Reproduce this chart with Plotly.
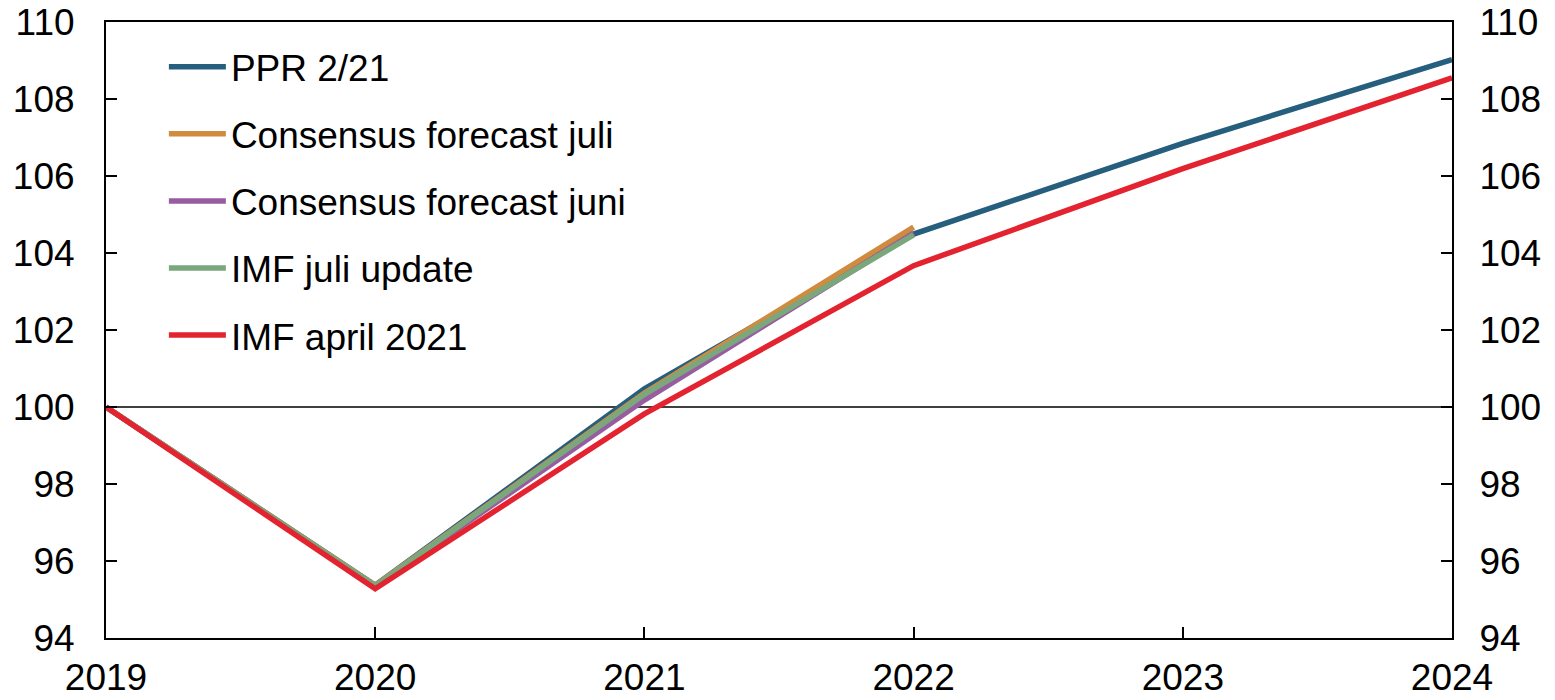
import plotly.graph_objects as go

years = [2019, 2020, 2021, 2022, 2023, 2024]
years_short = [2019, 2020, 2021, 2022]

ppr = [100, 95.37, 100.47, 104.49, 106.85, 109.02]
cons_juli = [100, 95.37, 100.36, 104.67]
cons_juni = [100, 95.35, 100.18, 104.52]
imf_juli = [100, 95.36, 100.33, 104.47]
imf_april = [100, 95.28, 99.82, 103.67, 106.19, 108.55]

y_ticks = [94, 96, 98, 100, 102, 104, 106, 108, 110]

series = [
    ("PPR 2/21", years, ppr, "#265E7E"),
    ("Consensus forecast juli", years_short, cons_juli, "#D08B3E"),
    ("Consensus forecast juni", years_short, cons_juni, "#985DA0"),
    ("IMF juli update", years_short, imf_juli, "#7BA77C"),
    ("IMF april 2021", years, imf_april, "#E3232F"),
]

FONT = "Liberation Sans, Arial, sans-serif"
FS = 37

fig = go.Figure()
for i, (name, xs, ys, col) in enumerate(series):
    fig.add_trace(go.Scatter(
        x=xs, y=ys, name=name, mode="lines",
        line=dict(color=col, width=5.5),
        legendgroup=f"g{i}",
    ))

# invisible trace so that the mirrored right-hand axis is rendered
fig.add_trace(go.Scatter(
    x=years, y=ppr, yaxis="y2", mode="lines", opacity=0,
    showlegend=False, hoverinfo="skip", line=dict(width=0),
))

fig.add_hline(y=100, line=dict(color="black", width=1.5), layer="below")

axis_common = dict(
    range=[94, 110], tickvals=y_ticks, ticks="inside", ticklen=11,
    tickwidth=1.5, tickcolor="black", showgrid=False, zeroline=False,
    showline=True, linecolor="black", linewidth=2, automargin=False,
    ticklabeloverflow="allow",
    tickfont=dict(family=FONT, size=FS, color="black"),
)

fig.update_layout(
    width=1547, height=692,
    margin=dict(l=98, r=103, t=14, b=62),
    paper_bgcolor="white", plot_bgcolor="white",
    font=dict(family=FONT, size=FS, color="black"),
    showlegend=True,
    legend=dict(
        x=0.043, y=0.977, xanchor="left", yanchor="top",
        bgcolor="rgba(0,0,0,0)", borderwidth=0,
        font=dict(family=FONT, size=FS, color="black"),
        traceorder="grouped", tracegroupgap=16, itemwidth=57,
    ),
    xaxis=dict(
        range=[2019, 2024], tickvals=years, ticks="inside", ticklen=11,
        tickwidth=1.5, tickcolor="black", showgrid=False, zeroline=False,
        showline=True, linecolor="black", linewidth=2, mirror=True,
        ticklabelstandoff=6, automargin=False, ticklabeloverflow="allow",
        tickfont=dict(family=FONT, size=FS, color="black"),
    ),
    yaxis=dict(side="left", ticklabelstandoff=22, **axis_common),
    yaxis2=dict(side="right", overlaying="y", ticklabelstandoff=18, **axis_common),
)

fig.write_html("out.html")
